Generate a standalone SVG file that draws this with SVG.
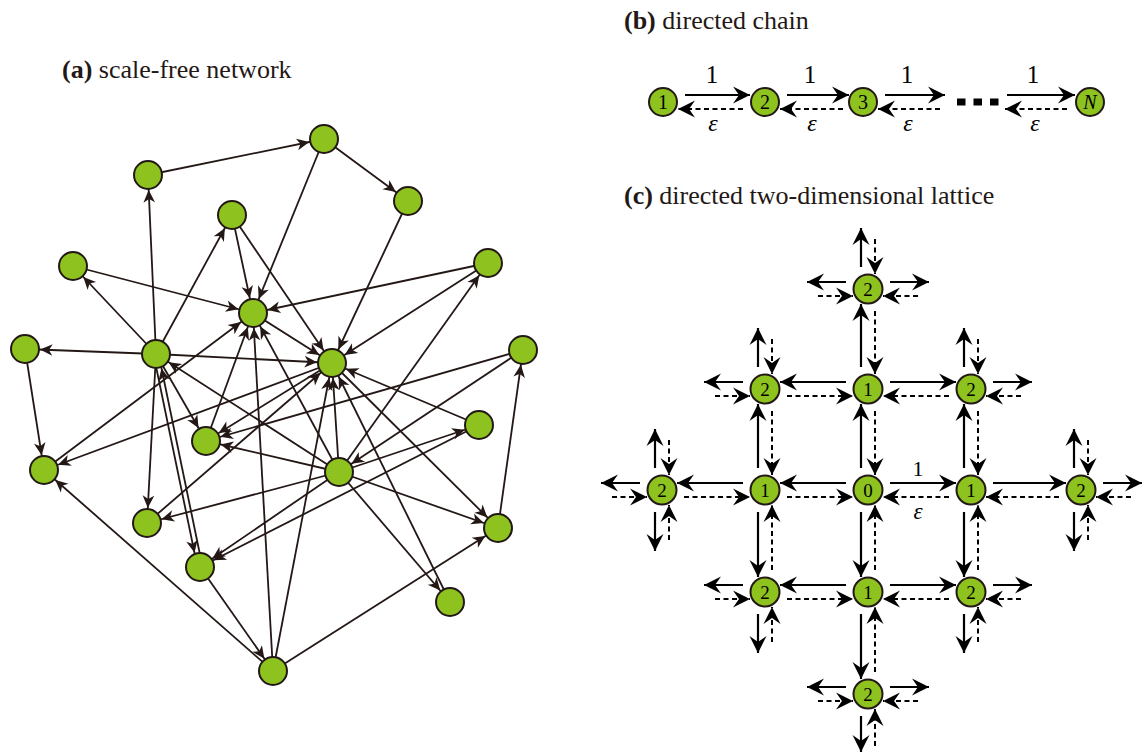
<svg xmlns="http://www.w3.org/2000/svg" width="1146" height="755" viewBox="0 0 1146 755">
<style>
.t{font-family:"Liberation Serif","Times New Roman",serif;fill:#231815}
.ttl{font-size:26px}
.e{stroke:#231815;stroke-width:1.8;fill:none;marker-end:url(#ah)}
.an{fill:#8DC21F;stroke:#231815;stroke-width:2}
.ln{fill:#8DC21F;stroke:#231815;stroke-width:2}
.s{stroke:#000;stroke-width:2.2;fill:none;marker-end:url(#bh)}
.d{stroke:#000;stroke-width:2;fill:none;stroke-dasharray:5 3.5;marker-end:url(#bh)}
.nt{font-family:"Liberation Serif","Times New Roman",serif;fill:#000;text-anchor:middle}
</style>
<defs>
<marker id="ah" markerUnits="userSpaceOnUse" viewBox="-29 -7 30 14" refX="0" refY="0" markerWidth="30" markerHeight="14" orient="auto" overflow="visible">
<path d="M-15,0 L-27.5,-5.8 L-24,0 L-27.5,5.8 Z" fill="#231815"/>
</marker>
<marker id="bh" markerUnits="userSpaceOnUse" viewBox="-18 -10 19 20" refX="0" refY="0" markerWidth="19" markerHeight="20" orient="auto" overflow="visible">
<path d="M0,0 L-17,-8.5 L-11,0 L-17,8.5 Z" fill="#000"/>
</marker>
</defs>
<rect width="1146" height="755" fill="#fff"/>

<!-- Titles -->
<text class="t ttl" x="62" y="78"><tspan font-weight="bold">(a)</tspan> scale-free network</text>
<text class="t ttl" x="624" y="29"><tspan font-weight="bold">(b)</tspan> directed chain</text>
<text class="t ttl" x="624" y="204"><tspan font-weight="bold">(c)</tspan> directed two-dimensional lattice</text>

<!-- Panel (a) connectors -->
<g id="a-edges">
<line class="e" x1="148" y1="175" x2="324" y2="139"/>
<line class="e" x1="324" y1="139" x2="408" y2="201"/>
<line class="e" x1="324" y1="139" x2="253" y2="313"/>
<line class="e" x1="408" y1="201" x2="332" y2="363"/>
<line class="e" x1="232" y1="215" x2="253" y2="313"/>
<line class="e" x1="232" y1="215" x2="332" y2="363"/>
<line class="e" x1="156" y1="354" x2="232" y2="215"/>
<line class="e" x1="156" y1="354" x2="148" y2="175"/>
<line class="e" x1="156" y1="354" x2="73" y2="266"/>
<line class="e" x1="73" y1="266" x2="253" y2="313"/>
<line class="e" x1="488" y1="263" x2="253" y2="313"/>
<line class="e" x1="488" y1="263" x2="332" y2="363"/>
<line class="e" x1="156" y1="354" x2="25" y2="349"/>
<line class="e" x1="25" y1="349" x2="44" y2="470"/>
<line class="e" x1="156" y1="354" x2="332" y2="363"/>
<line class="e" x1="156" y1="354" x2="206" y2="441"/>
<line class="e" x1="156" y1="354" x2="147" y2="523"/>
<line class="e" x1="153.55" y1="354.5" x2="197.55" y2="567.5"/>
<line class="e" x1="202.45" y1="566.5" x2="158.45" y2="353.5"/>
<line class="e" x1="200" y1="567" x2="273" y2="671"/>
<line class="e" x1="273" y1="671" x2="44" y2="470"/>
<line class="e" x1="273" y1="671" x2="253" y2="313"/>
<line class="e" x1="273" y1="671" x2="332" y2="363"/>
<line class="e" x1="273" y1="671" x2="498" y2="528"/>
<line class="e" x1="498" y1="528" x2="523" y2="350"/>
<line class="e" x1="339" y1="472" x2="488" y2="263"/>
<line class="e" x1="339" y1="472" x2="332" y2="363"/>
<line class="e" x1="339" y1="472" x2="479" y2="425"/>
<line class="e" x1="339" y1="472" x2="498" y2="528"/>
<line class="e" x1="339" y1="472" x2="147" y2="523"/>
<line class="e" x1="339" y1="472" x2="450" y2="602"/>
<line class="e" x1="450" y1="602" x2="332" y2="363"/>
<line class="e" x1="339" y1="472" x2="156" y2="354"/>
<line class="e" x1="339" y1="472" x2="253" y2="313"/>
<line class="e" x1="339" y1="472" x2="206" y2="441"/>
<line class="e" x1="339" y1="472" x2="200" y2="567"/>
<line class="e" x1="479" y1="425" x2="332" y2="363"/>
<line class="e" x1="479" y1="425" x2="200" y2="567"/>
<line class="e" x1="332" y1="363" x2="498" y2="528"/>
<line class="e" x1="523" y1="350" x2="206" y2="441"/>
<line class="e" x1="523" y1="350" x2="339" y2="472"/>
<line class="e" x1="332" y1="363" x2="44" y2="470"/>
<line class="e" x1="332" y1="363" x2="206" y2="441"/>
<line class="e" x1="206" y1="441" x2="253" y2="313"/>
<line class="e" x1="44" y1="470" x2="253" y2="313"/>
<line class="e" x1="147" y1="523" x2="332" y2="363"/>
<line class="e" x1="253" y1="313" x2="332" y2="363"/>
</g>

<!-- Panel (a) nodes -->
<g id="a-n1"><circle class="an" cx="148" cy="175" r="14"/></g>
<g id="a-n2"><circle class="an" cx="324" cy="139" r="14"/></g>
<g id="a-n3"><circle class="an" cx="408" cy="201" r="14"/></g>
<g id="a-n4"><circle class="an" cx="232" cy="215" r="14"/></g>
<g id="a-n5"><circle class="an" cx="73" cy="266" r="14"/></g>
<g id="a-n6"><circle class="an" cx="488" cy="263" r="14"/></g>
<g id="a-n7"><circle class="an" cx="253" cy="313" r="14"/></g>
<g id="a-n8"><circle class="an" cx="25" cy="349" r="14"/></g>
<g id="a-n9"><circle class="an" cx="156" cy="354" r="14"/></g>
<g id="a-n10"><circle class="an" cx="332" cy="363" r="14"/></g>
<g id="a-n11"><circle class="an" cx="523" cy="350" r="14"/></g>
<g id="a-n12"><circle class="an" cx="206" cy="441" r="14"/></g>
<g id="a-n13"><circle class="an" cx="479" cy="425" r="14"/></g>
<g id="a-n14"><circle class="an" cx="44" cy="470" r="14"/></g>
<g id="a-n15"><circle class="an" cx="339" cy="472" r="14"/></g>
<g id="a-n16"><circle class="an" cx="147" cy="523" r="14"/></g>
<g id="a-n17"><circle class="an" cx="498" cy="528" r="14"/></g>
<g id="a-n18"><circle class="an" cx="200" cy="567" r="14"/></g>
<g id="a-n19"><circle class="an" cx="450" cy="602" r="14"/></g>
<g id="a-n20"><circle class="an" cx="273" cy="671" r="14"/></g>

<!-- Panel (b) connectors -->
<g id="b-edges">
<line class="s" x1="685" y1="95" x2="750" y2="95"/>
<line class="s" x1="787" y1="95" x2="849" y2="95"/>
<line class="s" x1="885" y1="95" x2="945" y2="95"/>
<line class="s" x1="1007" y1="95" x2="1075" y2="95"/>
<line class="d" x1="743" y1="109" x2="678" y2="109"/>
<line class="d" x1="843" y1="109" x2="780" y2="109"/>
<line class="d" x1="940" y1="109" x2="878" y2="109"/>
<line class="d" x1="1067" y1="109" x2="1005" y2="109"/>
<line x1="957" y1="102" x2="999" y2="102" stroke="#000" stroke-width="7" stroke-dasharray="8.5 8"/>
</g>
<g id="b-labels" class="nt">
<text x="712" y="83" font-size="25">1</text>
<text x="810" y="83" font-size="25">1</text>
<text x="907" y="83" font-size="25">1</text>
<text x="1033" y="83" font-size="25">1</text>
<text x="713" y="131" font-size="24" font-style="italic">ε</text>
<text x="812" y="131" font-size="24" font-style="italic">ε</text>
<text x="908" y="131" font-size="24" font-style="italic">ε</text>
<text x="1035" y="131" font-size="24" font-style="italic">ε</text>
</g>
<g id="b-n1"><circle class="ln" cx="663" cy="102" r="14"/><text class="nt" x="663" y="109" font-size="20">1</text></g>
<g id="b-n2"><circle class="ln" cx="765" cy="102" r="14"/><text class="nt" x="765" y="109" font-size="20">2</text></g>
<g id="b-n3"><circle class="ln" cx="863" cy="102" r="14"/><text class="nt" x="863" y="109" font-size="20">3</text></g>
<g id="b-nN"><circle class="ln" cx="1090" cy="102" r="14"/><text class="nt" x="1090" y="109" font-size="20" font-style="italic">N</text></g>

<!-- Panel (c) connectors -->
<g id="c-edges">
<line class="s" x1="890" y1="483" x2="956" y2="483"/><line class="d" x1="949" y1="497" x2="883" y2="497"/>
<line class="s" x1="846" y1="483" x2="780" y2="483"/><line class="d" x1="787" y1="497" x2="853" y2="497"/>
<line class="s" x1="861" y1="468" x2="861" y2="404"/><line class="d" x1="875" y1="411" x2="875" y2="475"/>
<line class="s" x1="861" y1="512" x2="861" y2="577"/><line class="d" x1="875" y1="570" x2="875" y2="505"/>
<line class="s" x1="743" y1="483" x2="677" y2="483"/><line class="d" x1="684" y1="497" x2="750" y2="497"/>
<line class="s" x1="758" y1="468" x2="758" y2="404"/><line class="d" x1="772" y1="411" x2="772" y2="475"/>
<line class="s" x1="758" y1="512" x2="758" y2="577"/><line class="d" x1="772" y1="570" x2="772" y2="505"/>
<line class="s" x1="993" y1="483" x2="1066" y2="483"/><line class="d" x1="1059" y1="497" x2="986" y2="497"/>
<line class="s" x1="964" y1="468" x2="964" y2="404"/><line class="d" x1="978" y1="411" x2="978" y2="475"/>
<line class="s" x1="964" y1="512" x2="964" y2="577"/><line class="d" x1="978" y1="570" x2="978" y2="505"/>
<line class="s" x1="861" y1="367" x2="861" y2="304"/><line class="d" x1="875" y1="311" x2="875" y2="374"/>
<line class="s" x1="846" y1="382" x2="780" y2="382"/><line class="d" x1="787" y1="396" x2="853" y2="396"/>
<line class="s" x1="890" y1="382" x2="956" y2="382"/><line class="d" x1="949" y1="396" x2="883" y2="396"/>
<line class="s" x1="861" y1="614" x2="861" y2="679"/><line class="d" x1="875" y1="672" x2="875" y2="607"/>
<line class="s" x1="846" y1="585" x2="780" y2="585"/><line class="d" x1="787" y1="599" x2="853" y2="599"/>
<line class="s" x1="890" y1="585" x2="956" y2="585"/><line class="d" x1="949" y1="599" x2="883" y2="599"/>
<line class="s" x1="861" y1="267" x2="861" y2="228"/><line class="d" x1="875" y1="239" x2="875" y2="274"/>
<line class="s" x1="846" y1="282" x2="807" y2="282"/><line class="d" x1="818" y1="296" x2="853" y2="296"/>
<line class="s" x1="890" y1="282" x2="929" y2="282"/><line class="d" x1="918" y1="296" x2="883" y2="296"/>
<line class="s" x1="861" y1="716" x2="861" y2="752"/><line class="d" x1="875" y1="746" x2="875" y2="709"/>
<line class="s" x1="846" y1="687" x2="807" y2="687"/><line class="d" x1="818" y1="701" x2="853" y2="701"/>
<line class="s" x1="890" y1="687" x2="929" y2="687"/><line class="d" x1="918" y1="701" x2="883" y2="701"/>
<line class="s" x1="655" y1="468" x2="655" y2="429"/><line class="d" x1="669" y1="440" x2="669" y2="475"/>
<line class="s" x1="640" y1="483" x2="601" y2="483"/><line class="d" x1="612" y1="497" x2="647" y2="497"/>
<line class="s" x1="655" y1="512" x2="655" y2="551"/><line class="d" x1="669" y1="540" x2="669" y2="505"/>
<line class="s" x1="1074" y1="468" x2="1074" y2="429"/><line class="d" x1="1088" y1="440" x2="1088" y2="475"/>
<line class="s" x1="1103" y1="483" x2="1142" y2="483"/><line class="d" x1="1131" y1="497" x2="1096" y2="497"/>
<line class="s" x1="1074" y1="512" x2="1074" y2="551"/><line class="d" x1="1088" y1="540" x2="1088" y2="505"/>
<line class="s" x1="758" y1="367" x2="758" y2="328"/><line class="d" x1="772" y1="339" x2="772" y2="374"/>
<line class="s" x1="743" y1="382" x2="704" y2="382"/><line class="d" x1="715" y1="396" x2="750" y2="396"/>
<line class="s" x1="964" y1="367" x2="964" y2="328"/><line class="d" x1="978" y1="339" x2="978" y2="374"/>
<line class="s" x1="993" y1="382" x2="1032" y2="382"/><line class="d" x1="1021" y1="396" x2="986" y2="396"/>
<line class="s" x1="758" y1="614" x2="758" y2="653"/><line class="d" x1="772" y1="642" x2="772" y2="607"/>
<line class="s" x1="743" y1="585" x2="704" y2="585"/><line class="d" x1="715" y1="599" x2="750" y2="599"/>
<line class="s" x1="964" y1="614" x2="964" y2="653"/><line class="d" x1="978" y1="642" x2="978" y2="607"/>
<line class="s" x1="993" y1="585" x2="1032" y2="585"/><line class="d" x1="1021" y1="599" x2="986" y2="599"/>
</g>
<g id="c-labels" class="nt">
<text x="918" y="476" font-size="22">1</text>
<text x="918" y="519" font-size="23" font-style="italic">ε</text>
</g>

<!-- Panel (c) nodes -->
<g id="c-n0"><circle class="ln" cx="868" cy="490" r="14.5"/><text class="nt" x="868" y="496.5" font-size="19">0</text></g>
<g id="c-l1"><circle class="ln" cx="765" cy="490" r="14.5"/><text class="nt" x="765" y="496.5" font-size="19">1</text></g>
<g id="c-r1"><circle class="ln" cx="971" cy="490" r="14.5"/><text class="nt" x="971" y="496.5" font-size="19">1</text></g>
<g id="c-t1"><circle class="ln" cx="868" cy="389" r="14.5"/><text class="nt" x="868" y="395.5" font-size="19">1</text></g>
<g id="c-b1"><circle class="ln" cx="868" cy="592" r="14.5"/><text class="nt" x="868" y="598.5" font-size="19">1</text></g>
<g id="c-l2"><circle class="ln" cx="662" cy="490" r="14.5"/><text class="nt" x="662" y="496.5" font-size="19">2</text></g>
<g id="c-r2"><circle class="ln" cx="1081" cy="490" r="14.5"/><text class="nt" x="1081" y="496.5" font-size="19">2</text></g>
<g id="c-t2"><circle class="ln" cx="868" cy="289" r="14.5"/><text class="nt" x="868" y="295.5" font-size="19">2</text></g>
<g id="c-b2"><circle class="ln" cx="868" cy="694" r="14.5"/><text class="nt" x="868" y="700.5" font-size="19">2</text></g>
<g id="c-tl"><circle class="ln" cx="765" cy="389" r="14.5"/><text class="nt" x="765" y="395.5" font-size="19">2</text></g>
<g id="c-tr"><circle class="ln" cx="971" cy="389" r="14.5"/><text class="nt" x="971" y="395.5" font-size="19">2</text></g>
<g id="c-bl"><circle class="ln" cx="765" cy="592" r="14.5"/><text class="nt" x="765" y="598.5" font-size="19">2</text></g>
<g id="c-br"><circle class="ln" cx="971" cy="592" r="14.5"/><text class="nt" x="971" y="598.5" font-size="19">2</text></g>
</svg>
